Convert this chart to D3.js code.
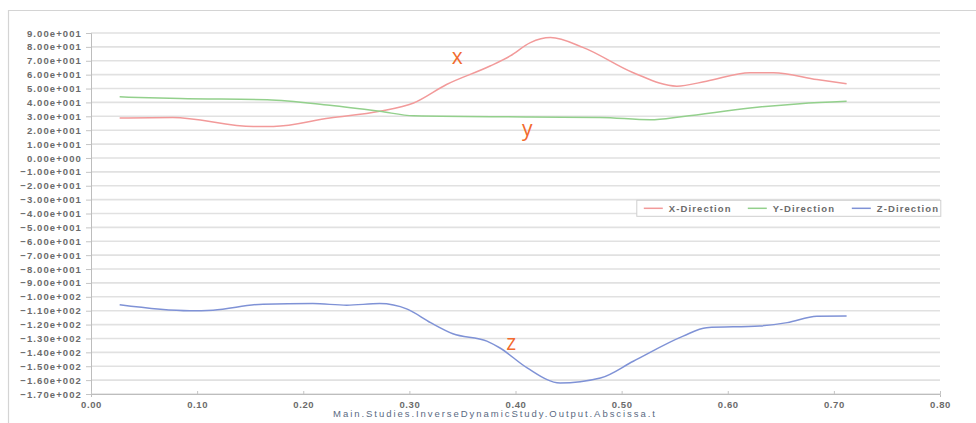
<!DOCTYPE html>
<html>
<head>
<meta charset="utf-8">
<script src="https://d3js.org/d3.v7.min.js"></script>
<style>
body { margin: 0; background: #fff; }
svg text { font-family: "Liberation Sans", Arial, sans-serif; }
</style>
</head>
<body>
<div id="chart"></div>
<script>
// Data
var tX = [0.027, 0.077, 0.153, 0.172, 0.225, 0.272, 0.304, 0.335, 0.376, 0.395, 0.414, 0.433, 0.464, 0.511, 0.552, 0.580, 0.621, 0.643, 0.684, 0.712];
var xDir = [28.8, 29.2, 22.7, 22.7, 28.8, 33.6, 39.6, 52.9, 66.2, 73.5, 83.1, 86.7, 79.5, 61.4, 51.7, 55.3, 61.4, 61.4, 56.5, 53.4];

var tY = [0.027, 0.084, 0.166, 0.225, 0.272, 0.304, 0.414, 0.480, 0.527, 0.558, 0.621, 0.668, 0.712];
var yDir = [44.0, 42.8, 42.0, 37.9, 33.6, 30.4, 29.5, 29.2, 27.5, 29.9, 36.0, 39.1, 40.8];

var tZ = [0.027, 0.093, 0.115, 0.162, 0.209, 0.241, 0.272, 0.298, 0.320, 0.341, 0.373, 0.385, 0.411, 0.442, 0.480, 0.511, 0.558, 0.580, 0.630, 0.656, 0.684, 0.712];
var zDir = [-105.8, -110.1, -109.6, -105.3, -104.9, -106.0, -104.9, -108.9, -118.6, -126.6, -131.9, -136.7, -151.2, -162.1, -158.5, -146.4, -128.3, -122.2, -121.0, -118.6, -114.0, -113.8];

var seriesNames = ["X-Direction", "Y-Direction", "Z-Direction"];
var seriesColors = ["#f29a9a", "#93d08c", "#7f92d6"];
var annotations = ["x", "y", "z"];
var annotT = [0.345, 0.411, 0.396];
var annotV = [67.5, 15.5, -138];

var xTicks = d3.range(0, 0.81, 0.1);
var yTicks = d3.range(-170, 91, 10);

var svgWidth = 976;
var svgHeight = 423;
var margin = { top: 33, right: 36, bottom: 29, left: 91 };
var width = svgWidth - margin.left - margin.right;
var height = svgHeight - margin.top - margin.bottom;

var svg = d3.select("#chart")
    .append("svg")
    .attr("width", svgWidth)
    .attr("height", svgHeight);

// outer frame (top + left)
svg.append("path")
    .attr("d", "M8.5,430 V10.5 H976")
    .attr("fill", "none")
    .attr("stroke", "#d4d4d4")
    .attr("stroke-width", 1.2);

var chartGroup = svg.append("g")
    .attr("transform", `translate(${margin.left},${margin.top})`);

var xScale = d3.scaleLinear().domain([0, 0.8]).range([0, width]);
var yScale = d3.scaleLinear().domain([-170, 90]).range([height, 0]);

// gridlines
chartGroup.append("g")
    .selectAll("line")
    .data(yTicks)
    .enter()
    .append("line")
    .attr("x1", 0)
    .attr("x2", width)
    .attr("y1", d => yScale(d))
    .attr("y2", d => yScale(d))
    .attr("stroke", "#e1e1e1")
    .attr("stroke-width", 1.6);

// y axis
var leftAxis = d3.axisLeft(yScale)
    .tickValues(yTicks)
    .tickSize(5)
    .tickPadding(4)
    .tickFormat(d => {
        var s = d3.format(".2e")(d);
        var parts = s.split("e");
        var exp = +parts[1];
        var sign = exp < 0 ? "-" : "+";
        return parts[0] + "e" + sign + String(Math.abs(exp)).padStart(3, "0");
    });

var yAxis = chartGroup.append("g").call(leftAxis);
yAxis.select(".domain").attr("stroke", "#bdbdbd");
yAxis.selectAll(".tick line").attr("stroke", "#c4c4c4");
yAxis.selectAll("text")
    .attr("fill", "#6b6b6b")
    .style("font-size", "9.5px")
    .style("font-weight", "bold")
    .style("letter-spacing", "1.1px");

// x axis
var bottomAxis = d3.axisBottom(xScale)
    .tickValues(xTicks)
    .tickSize(3)
    .tickPadding(4)
    .tickFormat(d3.format(".2f"));

var xAxis = chartGroup.append("g")
    .attr("transform", `translate(0,${height})`)
    .call(bottomAxis);
xAxis.select(".domain").attr("stroke", "#bdbdbd");
xAxis.selectAll(".tick line").attr("stroke", "#c4c4c4").attr("y2", -3);
xAxis.selectAll("text")
    .attr("fill", "#6b6b6b")
    .style("font-size", "9.5px")
    .style("font-weight", "bold")
    .style("letter-spacing", "0.6px");

chartGroup.append("text")
    .attr("x", 404)
    .attr("y", height + 23)
    .attr("text-anchor", "middle")
    .attr("fill", "#5a6a82")
    .style("font-size", "9.5px")
    .style("letter-spacing", "1.95px")
    .text("Main.Studies.InverseDynamicStudy.Output.Abscissa.t");

// lines
var allT = [tX, tY, tZ];
var allV = [xDir, yDir, zDir];

var line = d3.line()
    .x(d => xScale(d[0]))
    .y(d => yScale(d[1]))
    .curve(d3.curveMonotoneX);

allT.forEach(function (ts, i) {
    var pts = ts.map((t, j) => [t, allV[i][j]]);
    chartGroup.append("path")
        .datum(pts)
        .attr("d", line)
        .attr("fill", "none")
        .attr("stroke", seriesColors[i])
        .attr("stroke-width", 1.5);
});

// annotations
chartGroup.selectAll(".annot")
    .data(annotations)
    .enter()
    .append("text")
    .attr("class", "annot")
    .attr("x", (d, i) => xScale(annotT[i]))
    .attr("y", (d, i) => yScale(annotV[i]))
    .attr("text-anchor", "middle")
    .attr("fill", "#f26a2e")
    .style("font-size", "21px")
    .style("font-family", "'Open Sans', sans-serif")
    .text(d => d);

// legend
var legend = chartGroup.append("g")
    .attr("transform", `translate(${xScale(0.5143)},${yScale(-30.5)})`);

legend.append("rect")
    .attr("x", 0)
    .attr("y", 0)
    .attr("width", 304)
    .attr("height", 16)
    .attr("fill", "#fff")
    .attr("stroke", "#cfcfcf");

seriesNames.forEach(function (name, i) {
    var g = legend.append("g").attr("transform", `translate(${7 + i * 104},8)`);
    g.append("line")
        .attr("x1", 0).attr("x2", 19)
        .attr("y1", 0).attr("y2", 0)
        .attr("stroke", seriesColors[i])
        .attr("stroke-width", 1.5);
    g.append("text")
        .attr("x", 25)
        .attr("y", 3.5)
        .attr("fill", "#6b6b6b")
        .style("font-size", "9.5px")
        .style("font-weight", "bold")
        .style("letter-spacing", "1.1px")
        .text(name);
});
</script>
</body>
</html>
